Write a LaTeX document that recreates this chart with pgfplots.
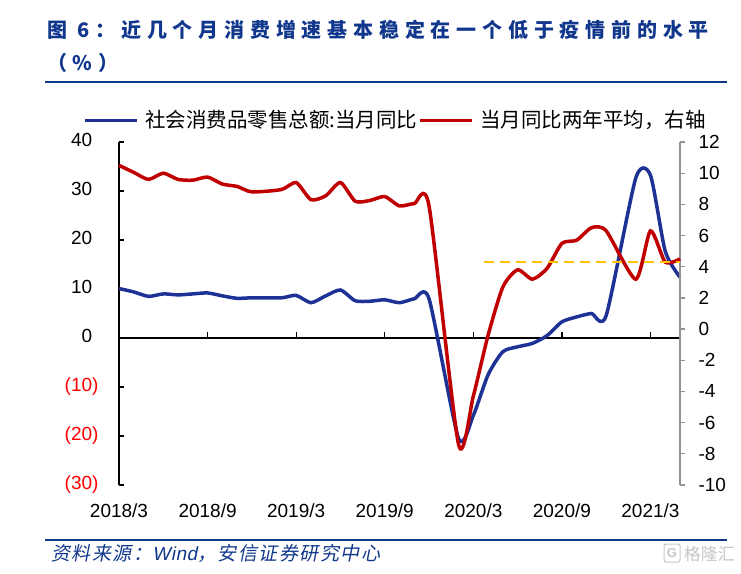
\documentclass[border=0pt]{standalone}
\usepackage{pgfplots}
\pgfplotsset{compat=1.18}
\usepackage{fontspec}
\setmainfont{Liberation Sans}
\newfontfamily\cjk{Noto Sans CJK SC}
\newfontfamily\cjktitle{Noto Sans CJK SC}[LetterSpace=29]
\newfontfamily\cjkit{Noto Sans CJK SC}[FakeSlant=0.2,LetterSpace=8]
\newfontfamily\latit{Liberation Sans}[FakeSlant=0.2,LetterSpace=3]
\definecolor{titleblue}{RGB}{16,55,140}
\definecolor{serblue}{RGB}{30,50,150}
\definecolor{serred}{RGB}{192,0,0}
\definecolor{dashor}{RGB}{255,192,0}
\begin{document}
\begin{tikzpicture}[x=1pt,y=1pt]
% title and source
\node[anchor=base west, inner sep=0, text=titleblue, font=\fontsize{20}{24}\selectfont\cjktitle\bfseries] at (47,535) {图 6：近几个月消费增速基本稳定在一个低于疫情前的水平};
\node[anchor=base west, inner sep=0, text=titleblue, font=\fontsize{20}{24}\selectfont\cjktitle\bfseries] at (47,502) {（\%）};
\draw[titleblue, line width=2.2] (45,491) -- (727,491);
\draw[titleblue, line width=2.2] (45,33) -- (727,33);
\node[anchor=base west, inner sep=0, text=titleblue, font=\fontsize{19}{22}\selectfont] at (51,13) {\cjkit 资料来源：{\latit Wind}，安信证券研究中心};
\node[anchor=base east, inner sep=0, text=gray!45, font=\fontsize{17}{20}\selectfont\cjk] at (735,13) {格隆汇};
\draw[gray!45, line width=1pt, rounded corners=2pt] (664,11) rectangle (680,29);
\node[text=gray!45, font=\fontsize{13}{15}\selectfont\bfseries] at (672,20) {G};

% left axis
\begin{axis}[
  at={(119pt,88pt)}, anchor=south west, scale only axis,
  width=561pt, height=343pt,
  xmin=0, xmax=38, ymin=-30, ymax=40,
  axis y line*=left, axis x line*=bottom,
  x axis line style={draw=none},
  y axis line style={black, line width=1.3pt},
  ytick={-30,-20,...,40},
  yticklabels={{\color{red}(30)},{\color{red}(20)},{\color{red}(10)},0\phantom{)},10\phantom{)},20\phantom{)},30\phantom{)},40\phantom{)}},
  tick align=inside,
  major tick length=5pt,
  ytick style={black, line width=1.3pt},
  xtick={0,6,...,36},
  xticklabels={2018/3,2018/9,2019/3,2019/9,2020/3,2020/9,2021/3},
  xtick style={draw=none},
  tick label style={font=\fontsize{19}{22}\selectfont},
  xticklabel style={yshift=-15pt},
  yticklabel style={xshift=-17pt},
  clip=false,
]
\addplot[black, line width=1.3pt, no markers] coordinates {(0,0) (38,0)};
\foreach \xx in {6,12,...,36} {\edef\tmp{\noexpand\draw[black,line width=1.3pt] (axis cs:\xx,0) -- ++(0pt,6pt);}\tmp}
\addplot[serblue, line width=3.5pt, smooth, tension=0.4, no markers] coordinates {
(0,10.1) (1,9.4) (2,8.5) (3,9.0) (4,8.8) (5,9.0) (6,9.2) (7,8.6) (8,8.1) (9,8.2)
(11,8.2) (12,8.7) (13,7.2) (14,8.6) (15,9.8) (16,7.6) (17,7.5) (18,7.8) (19,7.2) (20,8.0) (21,8.0)
(23,-20.5) (24,-15.8) (25,-7.5) (26,-2.8) (27,-1.8) (28,-1.1) (29,0.5) (30,3.3) (31,4.3) (32,5.0) (33,4.6)
(35,32.6) (36,33.2) (37,17.7) (38,12.4)};
\end{axis}

% right axis
\begin{axis}[
  at={(119pt,88pt)}, anchor=south west, scale only axis,
  width=561pt, height=343pt,
  xmin=0, xmax=38, ymin=-10, ymax=12,
  axis y line*=right, axis x line*=bottom,
  x axis line style={draw=none}, xtick=\empty,
  y axis line style={gray!85, line width=1.3pt},
  ytick={-10,-8,...,12},
  yticklabels={-10,-8,-6,-4,-2,0,2,4,6,8,10,12},
  tick align=outside, major tick length=5pt,
  ytick style={gray!85, line width=1.3pt},
  tick label style={font=\fontsize{19}{22}\selectfont},
  yticklabel style={xshift=10pt},
  clip=false,
  legend columns=2,
  legend style={draw=none, fill=none, inner sep=0pt, at={(-0.0633,1.0641)}, anchor=west,
    font=\fontsize{20.5}{24}\selectfont\cjk, nodes={inner sep=1.5pt},
    /tikz/every even column/.append style={column sep=0pt},
    /tikz/every odd column/.append style={column sep=5pt}},
  legend image code/.code={\draw[#1, line width=3pt] (0pt,0pt) -- (52pt,0pt);},
]
\addlegendimage{serblue}
\addlegendentry{社会消费品零售总额:当月同比}
\addplot[serred, line width=3.5pt, smooth, tension=0.4, no markers] coordinates {
(0,10.5) (1,10.05) (2,9.6) (3,10.0) (4,9.6) (5,9.55) (6,9.75) (7,9.3) (8,9.15) (9,8.8)
(11,8.95) (12,9.4) (13,8.3) (14,8.55) (15,9.4) (16,8.2) (17,8.25) (18,8.5) (19,7.9) (20,8.05) (21,7.9)
(23,-7.4) (24,-4.3) (25,-0.4) (26,2.7) (27,3.8) (28,3.2) (29,3.9) (30,5.5) (31,5.7) (32,6.5) (33,6.3)
(35,3.2) (36,6.3) (37,4.3) (38,4.5)};
\addlegendentry{当月同比两年平均，右轴}
\addplot[dashor, line width=2.2pt, dash pattern=on 10pt off 6pt, no markers, forget plot] coordinates {(24.7,4.3) (38,4.3)};
\end{axis}
\pgfresetboundingbox
\useasboundingbox (0pt,0pt) rectangle (741pt,573pt);
\end{tikzpicture}
\end{document}
